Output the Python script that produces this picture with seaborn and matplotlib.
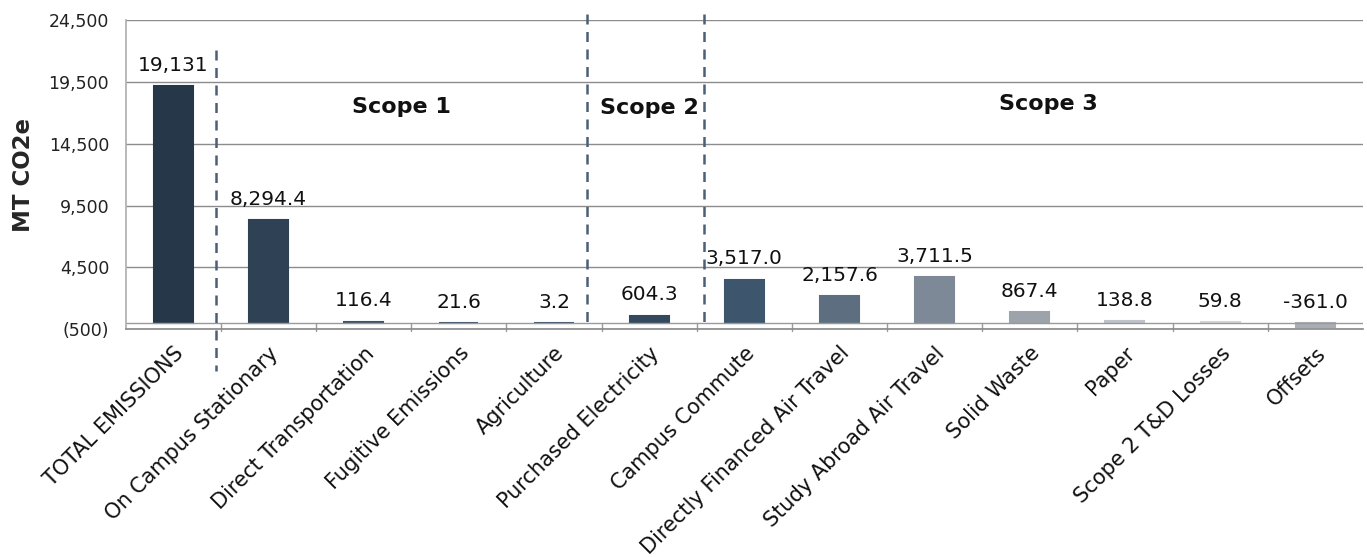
import matplotlib
matplotlib.use("Agg")
import matplotlib.pyplot as plt
import matplotlib.ticker as mticker
import seaborn as sns
import pandas as pd

categories = ["TOTAL EMISSIONS", "On Campus Stationary", "Direct Transportation",
              "Fugitive Emissions", "Agriculture", "Purchased Electricity",
              "Campus Commute", "Directly Financed Air Travel", "Study Abroad Air Travel",
              "Solid Waste", "Paper", "Scope 2 T&D Losses", "Offsets"]
values = [19131, 8294.4, 116.4, 21.6, 3.2, 604.3, 3517.0, 2157.6, 3711.5,
          867.4, 138.8, 59.8, -361.0]
value_labels = ["19,131", "8,294.4", "116.4", "21.6", "3.2", "604.3", "3,517.0",
                "2,157.6", "3,711.5", "867.4", "138.8", "59.8", "-361.0"]
bar_colors = ["#27374a", "#2f4154", "#3b5268", "#3d546b", "#3d546b", "#34495e",
              "#3e566d", "#5d6e80", "#7d8996", "#9ca3ab", "#bfc3c7", "#d2d5d8",
              "#a9aeb3"]
scope_names = ["Scope 1", "Scope 2", "Scope 3"]
yticks = list(range(-500, 24501, 5000))

df = pd.DataFrame({"category": categories, "value": values})

sns.set_theme(style="white")
plt.rcParams['font.family'] = ['DejaVu Sans']

fig = plt.figure(figsize=(13.67, 5.57), dpi=100)
ax = fig.add_axes([0.092, 0.409, 0.905, 0.555])

sns.barplot(data=df, x="category", y="value", hue="category", palette=bar_colors,
            width=0.41, legend=False, ax=ax, saturation=1)
for p in ax.patches:
    p.set_edgecolor(p.get_facecolor())
    p.set_linewidth(1.5)

ax.set_ylim(-500, 24500)
ax.set_xlim(-0.5, len(categories) - 0.5)
ax.set_yticks(yticks)
ax.yaxis.set_major_formatter(mticker.FuncFormatter(
    lambda v, p: "({:,.0f})".format(-v) if v < 0 else "{:,.0f}".format(v)))
ax.grid(axis="y", color="#8c8c8c", linewidth=1)
ax.set_axisbelow(True)

for s in ["top", "right"]:
    ax.spines[s].set_visible(False)
ax.spines["left"].set_color("#b0b0b0")
ax.spines["bottom"].set_color("#8c8c8c")

# category axis sits at zero, ticks at the category boundaries
ax.axhline(0, color="#9a9a9a", linewidth=1, zorder=1)
ax.set_xticks(range(len(categories)))
ax.set_xticklabels(categories, rotation=45, ha="right", rotation_mode="anchor", fontsize=15)
ax.tick_params(axis="x", length=0, pad=10, colors="#111111")
for b in range(1, len(categories)):
    ax.plot([b - 0.5, b - 0.5], [0, -650], color="#9a9a9a", linewidth=1,
            clip_on=False, zorder=1)
ax.tick_params(axis="y", labelsize=12.5, length=0, pad=12, colors="#222222")
ax.set_xlabel("")
ax.set_ylabel("MT CO2e", fontsize=16.5, fontweight="bold", labelpad=10)

for i, lab in enumerate(value_labels):
    top = max(values[i], 0)
    ax.annotate(lab, (i, top), xytext=(0, 8), textcoords="offset points",
                ha="center", va="bottom", fontsize=14.5, color="#111111")

# scope dividers
dash_col = "#4b6076"
ax.plot([0.45, 0.45], [22100, -3900], ls=(0, (4, 3)), color=dash_col, lw=1.8, clip_on=False)
ax.plot([4.35, 4.35], [25000, -200], ls=(0, (4, 3)), color=dash_col, lw=1.8, clip_on=False)
ax.plot([5.58, 5.58], [25000, 100], ls=(0, (4, 3)), color=dash_col, lw=1.8, clip_on=False)

scope_x = [2.4, 5.0, 9.2]
scope_y = [17450, 17350, 17700]
for n, sx, sy in zip(scope_names, scope_x, scope_y):
    ax.text(sx, sy, n, ha="center", va="center", fontsize=16, fontweight="bold",
            color="#111111")

fig.savefig("out.png", dpi=100)
